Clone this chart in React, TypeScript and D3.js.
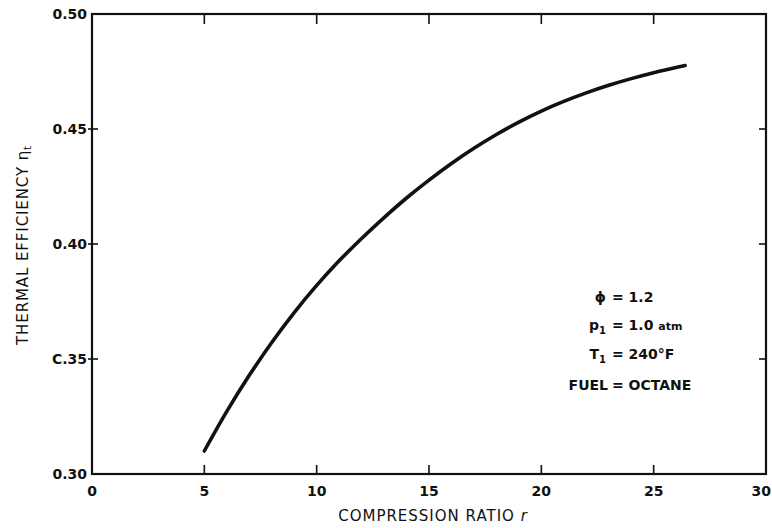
import React from "react";
import * as d3 from "d3";

// Compression ratio r and the resulting thermal efficiency
const ratio = [5, 6, 7, 8, 9, 10, 11, 12, 13, 14, 15, 16, 17, 18, 19, 20, 21, 22, 23, 24, 25, 26.4];
const efficiency = [
  0.31, 0.3272, 0.3429, 0.3572, 0.3702, 0.382, 0.3927, 0.4024, 0.4115, 0.42, 0.4278,
  0.435, 0.4416, 0.4476, 0.453, 0.4578, 0.462, 0.4657, 0.469, 0.4719, 0.4745, 0.4776,
];

const xTicks = [0, 5, 10, 15, 20, 25, 30];
const yTicks = [0.3, 0.35, 0.4, 0.45, 0.5];
const yTickLabels = ["0.30", "C.35", "0.40", "0.45", "0.50"];

const W = 772;
const H = 528;
const left = 92;
const right = 766;
const top = 14;
const bottom = 474;

const FONT = "'DejaVu Sans', sans-serif";

export default function App() {
  const x = d3.scaleLinear().domain([0, 30]).range([left, right]);
  const y = d3.scaleLinear().domain([0.3, 0.5]).range([bottom, top]);

  const pts: [number, number][] = ratio.map((r, i) => [r, efficiency[i]]);
  const line = d3
    .line<[number, number]>()
    .x((d) => x(d[0]))
    .y((d) => y(d[1]))
    .curve(d3.curveCatmullRom);

  const annX = 612;
  return (
    <svg
      width={W}
      height={H}
      style={{ position: "absolute", left: 0, top: 0, background: "#fff" }}
      fontFamily={FONT}
    >
      <rect x={left} y={top} width={right - left} height={bottom - top} fill="none" stroke="#111" strokeWidth={2.2} />

      {xTicks.slice(1, -1).map((t) => (
        <g key={"xt" + t}>
          <line x1={x(t)} x2={x(t)} y1={bottom} y2={bottom - 9} stroke="#111" strokeWidth={1.6} />
          <line x1={x(t)} x2={x(t)} y1={top} y2={top + 10} stroke="#111" strokeWidth={1.6} />
        </g>
      ))}
      {xTicks.map((t, i) => (
        <text
          key={"xl" + t}
          x={i === xTicks.length - 1 ? W - 1 : x(t)}
          y={bottom + 22}
          textAnchor={i === xTicks.length - 1 ? "end" : "middle"}
          fontSize={14}
          fontWeight="bold"
          fill="#111"
        >
          {t}
        </text>
      ))}

      {yTicks.slice(1, -1).map((t) => (
        <g key={"yt" + t}>
          <line x1={left - 4} x2={left + 6} y1={y(t)} y2={y(t)} stroke="#111" strokeWidth={1.6} />
          <line x1={right} x2={right - 7} y1={y(t)} y2={y(t)} stroke="#111" strokeWidth={1.6} />
        </g>
      ))}
      {yTicks.map((t, i) => (
        <text key={"yl" + t} x={left - 5} y={y(t) + 5} textAnchor="end" fontSize={14} fontWeight="bold" fill="#111">
          {yTickLabels[i]}
        </text>
      ))}

      <path d={line(pts) ?? ""} fill="none" stroke="#111" strokeWidth={3.6} strokeLinecap="round" />

      <text x={433} y={521} textAnchor="middle" fontSize={15} letterSpacing={1} fill="#111">
        COMPRESSION RATIO <tspan fontStyle="italic">r</tspan>
      </text>
      <text
        transform={`translate(28, 245) rotate(-90)`}
        textAnchor="middle"
        fontSize={15}
        letterSpacing={0.9}
        fill="#111"
      >
        THERMAL EFFICIENCY η<tspan fontSize={10} dy={3}>t</tspan>
      </text>

      <g fontSize={14} fontWeight="bold" fill="#111">
        <text x={annX - 6} y={302} textAnchor="end">ϕ</text>
        <text x={annX} y={302}>= 1.2</text>
        <text x={annX - 6} y={330} textAnchor="end">
          p<tspan fontSize={10} dy={4}>1</tspan>
        </text>
        <text x={annX} y={330}>= 1.0 <tspan fontSize={11}>atm</tspan></text>
        <text x={annX - 6} y={359} textAnchor="end">
          T<tspan fontSize={10} dy={4}>1</tspan>
        </text>
        <text x={annX} y={359}>= 240°F</text>
        <text x={annX - 4} y={390} textAnchor="end">FUEL</text>
        <text x={annX} y={390}>= OCTANE</text>
      </g>
    </svg>
  );
}
